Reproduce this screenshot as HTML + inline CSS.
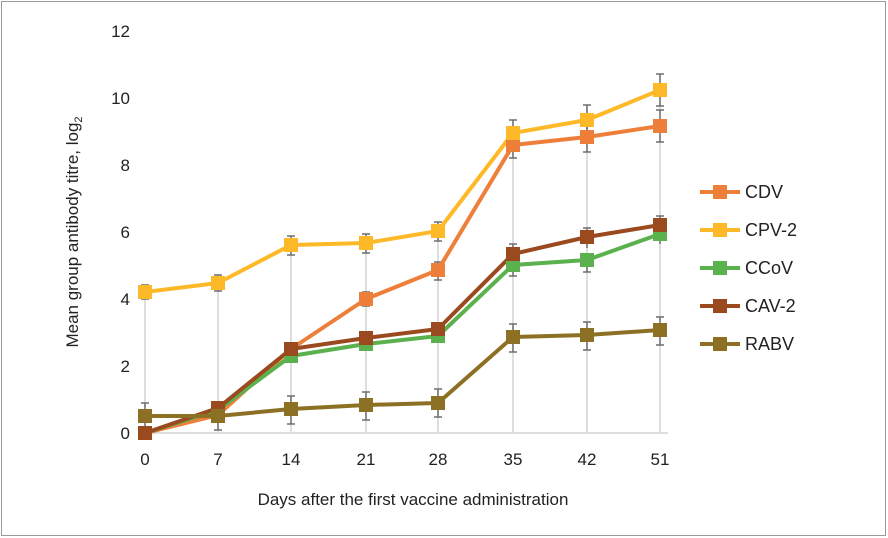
<!DOCTYPE html>
<html><head><meta charset="utf-8"><style>
html,body{margin:0;padding:0;background:#fff}
svg{display:block;font-family:"Liberation Sans",sans-serif}
</style></head><body>
<svg width="888" height="538" viewBox="0 0 888 538">
<rect x="1.5" y="1.5" width="884" height="534" fill="#fff" stroke="#9a9a9a" stroke-width="1"/>
<g fill="#222" font-size="17" text-anchor="end">
<text x="130" y="439">0</text><text x="130" y="372">2</text><text x="130" y="305">4</text>
<text x="130" y="238">6</text><text x="130" y="171">8</text><text x="130" y="104">10</text><text x="130" y="37">12</text>
</g>
<g fill="#222" font-size="17" text-anchor="middle">
<text x="145" y="465">0</text><text x="218" y="465">7</text><text x="291" y="465">14</text><text x="366" y="465">21</text>
<text x="438" y="465">28</text><text x="513" y="465">35</text><text x="587" y="465">42</text><text x="660" y="465">51</text>
<text x="413" y="505">Days after the first vaccine administration</text>
</g>
<text transform="translate(78,232) rotate(-90)" font-size="17" fill="#222" text-anchor="middle">Mean group antibody titre, log<tspan font-size="11" dy="4">2</tspan></text>
<g stroke="#d4d4d4" stroke-width="1.5">
<line x1="138" y1="433" x2="668" y2="433"/>
<line x1="145" y1="433" x2="145" y2="285"/><line x1="218" y1="433" x2="218" y2="275"/>
<line x1="291" y1="433" x2="291" y2="236"/><line x1="366" y1="433" x2="366" y2="234"/>
<line x1="438" y1="433" x2="438" y2="222"/><line x1="513" y1="433" x2="513" y2="120"/>
<line x1="587" y1="433" x2="587" y2="105"/><line x1="660" y1="433" x2="660" y2="74"/>
</g>
<g stroke="#6f6f6f" stroke-width="1.5" fill="none">
<path d="M145 285v14M141 285h8M141 299h8 M218 275v16M214 275h8M214 291h8 M291 236v19M287 236h8M287 255h8 M366 234v19M362 234h8M362 253h8 M438 222v19M434 222h8M434 241h8 M513 120v26M509 120h8M509 146h8 M587 105v30M583 105h8M583 135h8 M660 74v32M656 74h8M656 106h8"/>
<path d="M366 292v14M362 292h8M362 306h8 M438 262v18M434 262h8M434 280h8 M513 132v26M509 132h8M509 158h8 M587 124v28M583 124h8M583 152h8 M660 110v32M656 110h8M656 142h8"/>
<path d="M145 403v28M141 403h8 M218 402v28M214 430h8 M291 396v28M287 396h8M287 424h8 M366 392v28M362 392h8M362 420h8 M438 389v28M434 389h8M434 417h8 M513 324v28M509 324h8M509 352h8 M587 322v28M583 322h8M583 350h8 M660 317v28M656 317h8M656 345h8"/>
<path d="M513 244v22M509 244h8 M587 228v20M583 228h8 M660 216v20M656 216h8 M513 266v10M509 276h8 M587 260v12M583 272h8 M660 234v10"/>
</g>
<g stroke-width="4" fill="none" stroke-linejoin="round">
<polyline stroke="#EE7F3A" points="145,433 218,415 291,349 366,299 438,270 513,145 587,137 660,126"/>
<polyline stroke="#5BB14D" points="145,433 218,410 291,356 366,344 438,336 513,265 587,260 660,234"/>
<polyline stroke="#9A4A1E" points="145,433 218,408 291,349 366,338 438,329 513,254 587,237 660,225"/>
<polyline stroke="#FDB927" points="145,292 218,283 291,245 366,243 438,231 513,133 587,120 660,90"/>
<polyline stroke="#8C7124" points="145,416 218,416 291,409 366,405 438,403 513,337 587,335 660,330"/>
</g>
<g>
<g fill="#EE7F3A"><rect x="138" y="426" width="14" height="14"/><rect x="211" y="408" width="14" height="14"/><rect x="284" y="342" width="14" height="14"/><rect x="359" y="292" width="14" height="14"/><rect x="431" y="263" width="14" height="14"/><rect x="506" y="138" width="14" height="14"/><rect x="580" y="130" width="14" height="14"/><rect x="653" y="119" width="14" height="14"/></g>
<g fill="#5BB14D"><rect x="211" y="403" width="14" height="14"/><rect x="284" y="349" width="14" height="14"/><rect x="359" y="337" width="14" height="14"/><rect x="431" y="329" width="14" height="14"/><rect x="506" y="258" width="14" height="14"/><rect x="580" y="253" width="14" height="14"/><rect x="653" y="227" width="14" height="14"/></g>
<g fill="#9A4A1E"><rect x="138" y="426" width="14" height="14"/><rect x="211" y="401" width="14" height="14"/><rect x="284" y="342" width="14" height="14"/><rect x="359" y="331" width="14" height="14"/><rect x="431" y="322" width="14" height="14"/><rect x="506" y="247" width="14" height="14"/><rect x="580" y="230" width="14" height="14"/><rect x="653" y="218" width="14" height="14"/></g>
<g fill="#FDB927"><rect x="138" y="285" width="14" height="14"/><rect x="211" y="276" width="14" height="14"/><rect x="284" y="238" width="14" height="14"/><rect x="359" y="236" width="14" height="14"/><rect x="431" y="224" width="14" height="14"/><rect x="506" y="126" width="14" height="14"/><rect x="580" y="113" width="14" height="14"/><rect x="653" y="83" width="14" height="14"/></g>
<g fill="#8C7124"><rect x="138" y="409" width="14" height="14"/><rect x="211" y="409" width="14" height="14"/><rect x="284" y="402" width="14" height="14"/><rect x="359" y="398" width="14" height="14"/><rect x="431" y="396" width="14" height="14"/><rect x="506" y="330" width="14" height="14"/><rect x="580" y="328" width="14" height="14"/><rect x="653" y="323" width="14" height="14"/></g>
</g>
<g font-size="18" fill="#222">
<line x1="700" y1="192" x2="740" y2="192" stroke="#EE7F3A" stroke-width="4"/><rect x="713" y="185" width="14" height="14" fill="#EE7F3A"/><text x="745" y="198">CDV</text>
<line x1="700" y1="230" x2="740" y2="230" stroke="#FDB927" stroke-width="4"/><rect x="713" y="223" width="14" height="14" fill="#FDB927"/><text x="745" y="236">CPV-2</text>
<line x1="700" y1="268" x2="740" y2="268" stroke="#5BB14D" stroke-width="4"/><rect x="713" y="261" width="14" height="14" fill="#5BB14D"/><text x="745" y="274">CCoV</text>
<line x1="700" y1="306" x2="740" y2="306" stroke="#9A4A1E" stroke-width="4"/><rect x="713" y="299" width="14" height="14" fill="#9A4A1E"/><text x="745" y="312">CAV-2</text>
<line x1="700" y1="344" x2="740" y2="344" stroke="#8C7124" stroke-width="4"/><rect x="713" y="337" width="14" height="14" fill="#8C7124"/><text x="745" y="350">RABV</text>
</g>
</svg>
</body></html>
